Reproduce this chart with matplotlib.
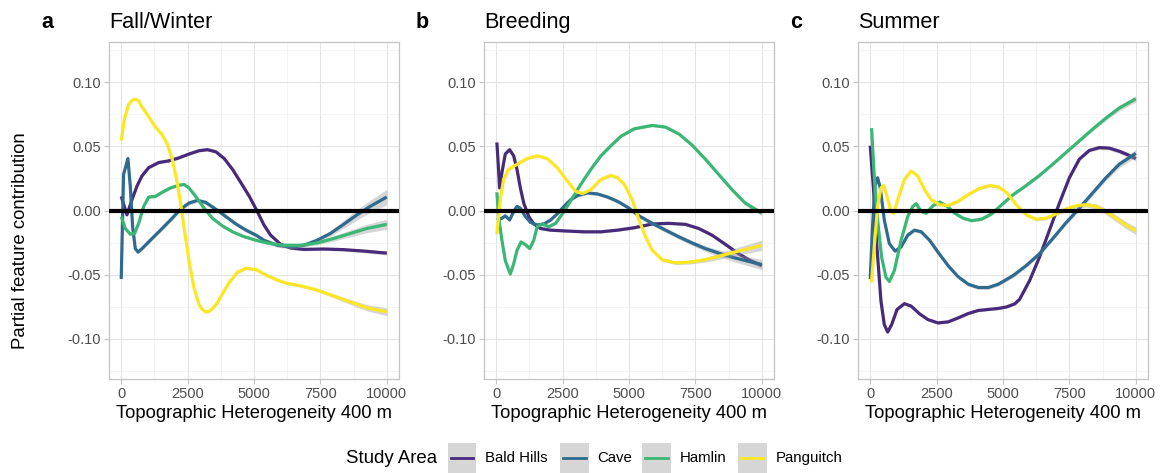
import numpy as np
import matplotlib
matplotlib.use("Agg")
import matplotlib.pyplot as plt
from matplotlib.patches import Rectangle
from matplotlib.lines import Line2D
from matplotlib.ticker import FuncFormatter, MultipleLocator

plt.rcParams["font.family"] = ["Liberation Sans", "DejaVu Sans"]

# ---------------- data ----------------
AREAS = ["Bald Hills", "Cave", "Hamlin", "Panguitch"]
COLORS = ["#472a7a", "#2f6b8e", "#3bb775", "#fde725"]
PANEL_TAGS = ["a", "b", "c"]
SEASONS = ["Fall/Winter", "Breeding", "Summer"]
X_TICKS = [0, 2500, 5000, 7500, 10000]
Y_TICKS = [-0.10, -0.05, 0.00, 0.05, 0.10]
X_LABEL = "Topographic Heterogeneity 400 m"
Y_LABEL = "Partial feature contribution"
LEGEND_TITLE = "Study Area"

# Fall/Winter
FW_BALD_X = [0, 215, 404, 594, 783, 1036, 1414, 1793, 2172, 2551, 2930, 3246, 3562, 3877, 4193, 4509, 4825,
             5125, 5375, 5625, 6000, 6375, 6875, 7625, 8375, 9125, 10000]
FW_BALD_Y = [0.011, -0.0034, 0.0084, 0.019, 0.027, 0.0334, 0.0374, 0.0387, 0.041, 0.044, 0.0466, 0.0474, 0.0458,
             0.0405, 0.032, 0.0216, 0.011, -0.0008, -0.0113, -0.0192, -0.0263, -0.0292, -0.0303, -0.030, -0.0305,
             -0.0316, -0.0332]
FW_CAVE_X = [0, 88, 253, 341, 430, 530, 632, 783, 1162, 1541, 1920, 2235, 2551, 2867, 3183, 3562, 3940, 4319,
             4698, 5077, 5375, 5875, 6375, 6875, 7375, 7875, 8375, 8875, 9375, 10000]
FW_CAVE_Y = [-0.0534, 0.028, 0.0405, 0.019, -0.0126, -0.0297, -0.0324, -0.0297, -0.0218, -0.014, -0.006, 0.001,
             0.0058, 0.0079, 0.0063, 0.001, -0.0047, -0.0105, -0.0153, -0.0192, -0.0232, -0.0271, -0.0284,
             -0.0271, -0.0232, -0.0179, -0.0108, -0.0034, 0.0032, 0.0105]
FW_HAML_X = [0, 152, 341, 505, 657, 846, 1036, 1288, 1541, 1857, 2172, 2362, 2551, 2804, 3120, 3435, 3814, 4193,
             4572, 5077, 5500, 6125, 6750, 7375, 8000, 8625, 9250, 10000]
FW_HAML_Y = [-0.0047, -0.014, -0.0184, -0.0179, -0.010, 0.0032, 0.0105, 0.011, 0.0142, 0.0176, 0.0197, 0.0203,
             0.0176, 0.011, 0.0018, -0.006, -0.0121, -0.0166, -0.020, -0.0232, -0.0253, -0.0271, -0.0271,
             -0.0253, -0.0218, -0.0179, -0.014, -0.0108]
FW_PANG_X = [0, 126, 278, 420, 530, 650, 783, 1036, 1288, 1541, 1730, 1920, 2109, 2235, 2362, 2551, 2740, 2930,
             3057, 3183, 3309, 3435, 3624, 3751, 4067, 4383, 4698, 5077, 5375, 5875, 6250, 6750, 7375, 8000,
             8625, 9250, 10000]
FW_PANG_Y = [0.0545, 0.0716, 0.0826, 0.0860, 0.0868, 0.0855, 0.0808, 0.073, 0.065, 0.059, 0.052, 0.040, 0.0216,
             0.0058, -0.0126, -0.039, -0.060, -0.0732, -0.0772, -0.079, -0.0785, -0.0765, -0.0718, -0.0670,
             -0.056, -0.048, -0.0450, -0.046, -0.0495, -0.0542, -0.0568, -0.0587, -0.062, -0.0666, -0.0713,
             -0.0758, -0.079]

# Breeding
BR_BALD_X = [25, 88, 126, 215, 341, 505, 657, 783, 909, 1036, 1225, 1414, 1667, 2046, 2678, 3309, 3941, 4572,
             5204, 5875, 6500, 7125, 7625, 8125, 8625, 9125, 9563, 10000]
BR_BALD_Y = [0.053, 0.032, 0.0176, 0.0295, 0.044, 0.0474, 0.0426, 0.032, 0.0176, 0.0058, -0.0047, -0.0105,
             -0.014, -0.0153, -0.016, -0.0166, -0.0166, -0.0153, -0.0134, -0.0105, -0.010, -0.0108, -0.014,
             -0.0192, -0.0263, -0.0337, -0.039, -0.0429]
BR_CAVE_X = [25, 215, 341, 505, 657, 783, 909, 1099, 1288, 1541, 1793, 2046, 2299, 2551, 2804, 3057, 3435,
             3814, 4193, 4572, 4951, 5375, 5875, 6375, 6875, 7375, 7875, 8375, 8875, 9375, 10000]
BR_CAVE_Y = [-0.0074, -0.006, -0.0042, -0.0074, -0.0008, 0.0032, 0.0018, -0.0047, -0.0092, -0.0113, -0.0105,
             -0.0074, -0.0026, 0.0032, 0.0084, 0.0116, 0.0137, 0.0129, 0.0105, 0.0071, 0.0025, -0.0042, -0.010,
             -0.0153, -0.0205, -0.0253, -0.0297, -0.0332, -0.0363, -0.039, -0.0421]
BR_HAML_X = [25, 88, 215, 341, 530, 657, 783, 935, 1099, 1263, 1414, 1541, 1730, 1983, 2236, 2551, 2867, 3183,
             3562, 3941, 4319, 4698, 5204, 5875, 6375, 6875, 7375, 7875, 8375, 8875, 9375, 10000]
BR_HAML_Y = [0.0142, -0.0047, -0.0232, -0.039, -0.0495, -0.0416, -0.031, -0.0245, -0.0266, -0.0297, -0.0232,
             -0.0126, -0.0105, -0.0126, -0.010, -0.0008, 0.0097, 0.0203, 0.032, 0.0426, 0.0505, 0.0579, 0.0637,
             0.0663, 0.065, 0.0597, 0.051, 0.040, 0.0282, 0.0163, 0.0058, -0.0021]
BR_PANG_X = [25, 152, 278, 467, 783, 1162, 1541, 1920, 2299, 2678, 2993, 3246, 3562, 3941, 4319, 4572, 4825,
             5125, 5375, 5625, 5875, 6250, 6750, 7250, 7875, 8500, 9125, 10000]
BR_PANG_Y = [-0.0184, 0.0084, 0.0242, 0.0321, 0.036, 0.0405, 0.0426, 0.0405, 0.0334, 0.0229, 0.015, 0.0132,
             0.0163, 0.0242, 0.0274, 0.0255, 0.0203, 0.0084, -0.0074, -0.0205, -0.031, -0.0384, -0.0408,
             -0.0403, -0.0384, -0.035, -0.0316, -0.0271]

# Summer
SU_BALD_X = [0, 126, 253, 404, 530, 657, 808, 1010, 1288, 1541, 1857, 2172, 2551, 2930, 3309, 3688, 4067, 4446,
             4825, 5125, 5440, 5625, 6000, 6375, 6750, 7125, 7500, 7875, 8250, 8625, 9000, 9375, 9688, 10000]
SU_BALD_Y = [0.0505, 0.0163, -0.0284, -0.0705, -0.0889, -0.0947, -0.0889, -0.0771, -0.0726, -0.0745, -0.0805,
             -0.085, -0.0876, -0.0868, -0.0837, -0.0803, -0.0779, -0.0771, -0.0763, -0.0752, -0.0728, -0.0692,
             -0.0547, -0.0363, -0.0153, 0.0058, 0.0255, 0.040, 0.0468, 0.049, 0.0486, 0.0462, 0.0435, 0.0405]
SU_CAVE_X = [0, 88, 177, 278, 379, 530, 720, 935, 1162, 1414, 1667, 1920, 2236, 2551, 2930, 3309, 3688, 4067,
             4446, 4825, 5375, 5875, 6375, 6875, 7375, 7875, 8375, 8875, 9375, 10000]
SU_CAVE_Y = [-0.0534, -0.0126, 0.019, 0.0255, 0.0176, -0.0074, -0.0258, -0.0316, -0.0284, -0.0192, -0.0153,
             -0.0166, -0.0232, -0.0324, -0.0429, -0.0516, -0.0574, -0.060, -0.060, -0.0574, -0.0508, -0.0429,
             -0.0337, -0.0218, -0.0095, 0.0018, 0.0137, 0.0255, 0.036, 0.0445]
SU_HAML_X = [50, 152, 278, 429, 593, 720, 909, 1162, 1414, 1604, 1730, 1920, 2109, 2362, 2614, 2867, 3183, 3498,
             3814, 4193, 4572, 4951, 5375, 5875, 6375, 6875, 7375, 7875, 8375, 8875, 9375, 10000]
SU_HAML_Y = [0.0642, 0.0268, -0.0074, -0.0363, -0.0521, -0.0553, -0.0468, -0.0232, -0.0047, 0.0032, 0.0053,
             -0.0008, -0.0021, 0.0037, 0.0066, 0.0037, -0.0021, -0.006, -0.0079, -0.0068, -0.0026, 0.0045,
             0.0122, 0.0195, 0.0273, 0.0361, 0.0452, 0.0543, 0.0634, 0.072, 0.0798, 0.0870]
SU_PANG_X = [50, 152, 278, 404, 505, 632, 783, 884, 1036, 1288, 1541, 1793, 2046, 2299, 2614, 2930, 3309, 3688,
             4067, 4509, 4825, 5125, 5500, 5875, 6250, 6625, 7000, 7375, 7750, 8125, 8500, 8875, 9250, 9625, 10000]
SU_PANG_Y = [-0.056, -0.0284, 0.0032, 0.0176, 0.0195, 0.011, -0.0008, -0.0021, 0.0084, 0.0242, 0.0308, 0.0268,
             0.0163, 0.0084, 0.0045, 0.0039, 0.0071, 0.0124, 0.0168, 0.0195, 0.0184, 0.0142, 0.0045, -0.0034,
             -0.0068, -0.006, -0.0026, 0.0011, 0.0037, 0.0045, 0.0032, -0.0008, -0.006, -0.0113, -0.0158]

# standard-error half widths of each smooth, given at SE_X
SE_X = [0, 2500, 5000, 7500, 10000]
FW_SE = [[0.001, 0.001, 0.001, 0.001, 0.0015],
         [0.001, 0.0016, 0.0015, 0.0015, 0.006],
         [0.001, 0.001, 0.001, 0.0015, 0.004],
         [0.001, 0.001, 0.001, 0.001, 0.003]]
BR_SE = [[0.001, 0.001, 0.001, 0.001, 0.002],
         [0.001, 0.001, 0.0015, 0.002, 0.004],
         [0.001, 0.001, 0.001, 0.001, 0.002],
         [0.001, 0.001, 0.001, 0.0015, 0.004]]
SU_SE = [[0.001, 0.001, 0.001, 0.001, 0.002],
         [0.001, 0.0015, 0.0015, 0.0015, 0.003],
         [0.001, 0.001, 0.001, 0.001, 0.0025],
         [0.001, 0.001, 0.001, 0.0015, 0.003]]

PANELS = [
    [(FW_BALD_X, FW_BALD_Y), (FW_CAVE_X, FW_CAVE_Y), (FW_HAML_X, FW_HAML_Y), (FW_PANG_X, FW_PANG_Y)],
    [(BR_BALD_X, BR_BALD_Y), (BR_CAVE_X, BR_CAVE_Y), (BR_HAML_X, BR_HAML_Y), (BR_PANG_X, BR_PANG_Y)],
    [(SU_BALD_X, SU_BALD_Y), (SU_CAVE_X, SU_CAVE_Y), (SU_HAML_X, SU_HAML_Y), (SU_PANG_X, SU_PANG_Y)],
]
PANEL_SE = [FW_SE, BR_SE, SU_SE]

# ---------------- figure ----------------
W, H = 1169, 473
fig = plt.figure(figsize=(W / 100, H / 100), dpi=100)

AX_LEFTS = [109, 484, 858]
AX_WIDTH = 290
AX_TOP, AX_BOTTOM = 42, 379

GRID_MAJOR = "#e4e4e4"
GRID_MINOR = "#f2f2f2"
BORDER = "#c4c4c4"
TICK_TEXT = "#4d4d4d"

for p in range(3):
    left = AX_LEFTS[p] / W
    ax = fig.add_axes([left, 1 - AX_BOTTOM / H, AX_WIDTH / W, (AX_BOTTOM - AX_TOP) / H])
    ax.set_xlim(-460, 10460)
    ax.set_ylim(-0.1313, 0.1313)

    ax.set_xticks(X_TICKS)
    ax.set_yticks(Y_TICKS)
    ax.xaxis.set_minor_locator(MultipleLocator(1250))
    ax.yaxis.set_minor_locator(MultipleLocator(0.025))
    ax.yaxis.set_major_formatter(FuncFormatter(lambda v, pos: f"{v:.2f}".replace("-0.00", "0.00")))
    ax.xaxis.set_major_formatter(FuncFormatter(lambda v, pos: f"{int(round(v))}"))

    ax.grid(True, which="major", color=GRID_MAJOR, linewidth=0.8, zorder=0)
    ax.grid(True, which="minor", color=GRID_MINOR, linewidth=0.5, zorder=0)
    ax.set_axisbelow(True)
    for s in ax.spines.values():
        s.set_color(BORDER)
        s.set_linewidth(0.9)
    ax.tick_params(which="major", length=3.3, width=0.8, color=BORDER, labelsize=10.5,
                   labelcolor=TICK_TEXT, pad=2.5)
    ax.tick_params(which="minor", length=0)

    for k, (xs, ys) in enumerate(PANELS[p]):
        xs = np.asarray(xs, dtype=float)
        ys = np.asarray(ys, dtype=float)
        se = np.interp(xs, SE_X, PANEL_SE[p][k])
        ax.fill_between(xs, ys - se, ys + se, color="#999999", alpha=0.4, linewidth=0, zorder=2 + k)
        ax.plot(xs, ys, color=COLORS[k], linewidth=2.3, solid_capstyle="butt",
                solid_joinstyle="round", zorder=2 + k)

    ax.axhline(0, color="black", linewidth=3.0, zorder=10)

    ax.set_xlabel(X_LABEL, fontsize=13.2, labelpad=3)
    fig.text(left, 1 - 28 / H, SEASONS[p], fontsize=15.6, ha="left", va="baseline")
    fig.text((AX_LEFTS[p] - 68) / W, 1 - 28 / H, PANEL_TAGS[p], fontsize=15.5,
             fontweight="bold", ha="left", va="baseline")

fig.text(21 / W, 1 - 241 / H, Y_LABEL, rotation=90, fontsize=13.4, ha="center", va="center")

# ---------------- legend ----------------
legend_y = 1 - 458 / H
fig.text(346 / W, legend_y, LEGEND_TITLE, fontsize=13.4, ha="left", va="center")
KEY_LEFTS = [447.5, 560, 642, 738]
KEY_W, KEY_TOP, KEY_BOT = 28.5, 443, 474
for k, area in enumerate(AREAS):
    kx = KEY_LEFTS[k]
    fig.add_artist(Rectangle((kx / W, 1 - KEY_BOT / H), KEY_W / W, (KEY_BOT - KEY_TOP) / H,
                             transform=fig.transFigure, facecolor="#d6d6d6", edgecolor="none"))
    fig.add_artist(Line2D([(kx + 3) / W, (kx + KEY_W - 3) / W], [legend_y, legend_y],
                          transform=fig.transFigure, color=COLORS[k], linewidth=2.0))
    fig.text((kx + KEY_W + 9) / W, legend_y, area, fontsize=10.8, ha="left", va="center")

fig.savefig("out.png", dpi=100)
